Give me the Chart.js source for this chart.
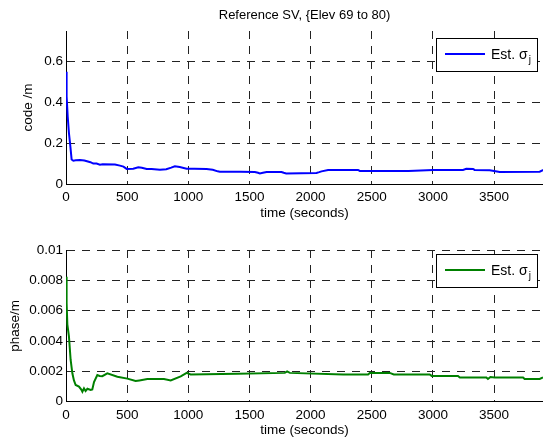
<!DOCTYPE html>
<html>
<head>
<meta charset="utf-8">
<script src="https://cdn.jsdelivr.net/npm/chart.js@4/dist/chart.umd.min.js"></script>
<style>
  body { margin: 0; background: #fff; }
  #wrap { position: relative; width: 543px; height: 438px; }
  canvas { position: absolute; left: 0; }
</style>
</head>
<body>
<div id="wrap">
  <canvas id="code" width="543" height="225" style="top:0"></canvas>
  <canvas id="phase" width="543" height="219" style="top:219px"></canvas>
</div>
<script>
const titleText = "Reference SV, {Elev 69 to 80)";
const xLabel = "time (seconds)";
const xTicks = [0, 500, 1000, 1500, 2000, 2500, 3000, 3500];

// code sigma
const codeTime = [0, 5, 14, 24, 33, 46, 60, 80, 114, 150, 200, 223, 250, 277, 300, 400, 441, 470, 496, 550, 591, 620, 660, 700, 768, 820, 860, 890, 930, 986, 1050, 1149, 1200, 1240, 1258, 1350, 1422, 1544, 1570, 1585, 1610, 1640, 1762, 1780, 1800, 2048, 2070, 2089, 2143, 2388, 2402, 2600, 2800, 3001, 3246, 3273, 3328, 3341, 3464, 3500, 3546, 3873, 3897, 3900];
const codeSigma = [0.55, 0.43, 0.33, 0.25, 0.2, 0.12, 0.114, 0.116, 0.118, 0.115, 0.107, 0.1, 0.1, 0.095, 0.097, 0.095, 0.09, 0.085, 0.074, 0.075, 0.082, 0.08, 0.074, 0.074, 0.07, 0.072, 0.08, 0.087, 0.083, 0.075, 0.075, 0.074, 0.07, 0.062, 0.06, 0.06, 0.06, 0.059, 0.055, 0.052, 0.055, 0.059, 0.059, 0.055, 0.052, 0.054, 0.058, 0.062, 0.069, 0.069, 0.064, 0.064, 0.064, 0.069, 0.069, 0.075, 0.074, 0.069, 0.067, 0.064, 0.059, 0.06, 0.067, 0.067];
const codeTicks = [0, 0.2, 0.4, 0.6];

// phase sigma
const phaseTime = [0, 5, 11, 24, 38, 52, 65, 79, 106, 125, 134, 147, 160, 175, 202, 215, 229, 256, 275, 297, 338, 420, 502, 569, 600, 665, 801, 856, 938, 987, 1019, 1400, 1789, 1808, 1830, 2265, 2470, 2484, 2647, 2680, 2974, 2990, 3205, 3220, 3437, 3450, 3470, 3505, 3737, 3750, 3873, 3900];
const phaseSigma = [0.00824, 0.0065, 0.0051, 0.0043, 0.00275, 0.00187, 0.0014, 0.0011, 0.001, 0.0008, 0.00066, 0.00088, 0.0007, 0.00085, 0.00077, 0.0008, 0.0013, 0.00176, 0.0017, 0.00168, 0.00187, 0.00165, 0.00152, 0.00136, 0.0014, 0.00149, 0.00149, 0.0014, 0.00167, 0.0019, 0.0018, 0.00185, 0.0019, 0.002, 0.0019, 0.0018, 0.0018, 0.0019, 0.0019, 0.0018, 0.0018, 0.0017, 0.0017, 0.0016, 0.0016, 0.0015, 0.00163, 0.0016, 0.0016, 0.0015, 0.0015, 0.0016];
const phaseTicks = [0, 0.002, 0.004, 0.006, 0.008, 0.01];
const phaseTickLabels = ["0", "0.002", "0.004", "0.006", "0.008", "0.01"];

const legendText = "Est. \u03c3";
const legendSub = "j";

const FONT = '"Liberation Sans", Arial, Helvetica, sans-serif';
Chart.defaults.font.family = FONT;
Chart.defaults.font.size = 13.5;
Chart.defaults.color = "#000";

// MATLAB style boxed legend in the top right corner
const legendBox = {
  id: "legendBox",
  afterDraw(chart, args, opts) {
    const { ctx, chartArea } = chart;
    const ds = chart.data.datasets[0];
    const w = 101, h = 33;
    const x = Math.round(chartArea.right - w - 6.5);
    const y = Math.round(chartArea.top + opts.gap);
    ctx.save();
    ctx.fillStyle = "#fff";
    ctx.fillRect(x, y, w, h);
    ctx.strokeStyle = "#000";
    ctx.lineWidth = 1;
    ctx.strokeRect(x + 0.5, y + 0.5, w, h);
    ctx.strokeStyle = ds.borderColor;
    ctx.lineWidth = 2;
    ctx.beginPath();
    ctx.moveTo(x + 9, y + 16);
    ctx.lineTo(x + 49, y + 16);
    ctx.stroke();
    ctx.fillStyle = "#000";
    ctx.font = "14px " + FONT;
    ctx.fillText(legendText, x + 55, y + 21);
    const tw = ctx.measureText(legendText).width;
    ctx.font = "10px " + FONT;
    ctx.fillText(legendSub, x + 55 + tw + 1, y + 25);
    ctx.restore();
  }
};

function points(xs, ys) {
  return xs.map((t, i) => ({ x: t, y: ys[i] }));
}

function gridColor(c) {
  return c.tick && c.tick.value === 0 ? "rgba(0,0,0,0)" : "#222";
}

function makeChart(id, opt) {
  return new Chart(document.getElementById(id), {
    type: "line",
    data: {
      datasets: [{
        label: legendText + legendSub,
        data: points(opt.time, opt.values),
        borderColor: opt.color,
        borderWidth: 2,
        pointRadius: 0,
        tension: 0
      }]
    },
    plugins: [legendBox],
    options: {
      responsive: false,
      animation: false,
      layout: { padding: { top: opt.padTop, right: 0, bottom: 0, left: 0 } },
      plugins: {
        legend: { display: false },
        tooltip: { enabled: false },
        title: {
          display: !!opt.title,
          text: opt.title,
          fullSize: false,
          font: { size: 13, weight: "normal" },
          color: "#000",
          padding: { top: 8, bottom: 7.4 }
        },
        legendBox: { gap: opt.legendGap }
      },
      scales: {
        x: {
          type: "linear",
          min: 0,
          max: 3900,
          afterBuildTicks: s => { s.ticks = xTicks.map(v => ({ value: v })); },
          afterFit: s => { s.height = opt.xHeight; },
          ticks: { padding: 5, autoSkip: false, maxRotation: 0, callback: v => String(v) },
          grid: { color: gridColor, drawTicks: false, lineWidth: 1 },
          border: { display: true, color: "#000", width: 1, dash: [8, 7] },
          title: { display: true, text: xLabel, padding: { top: 0, bottom: opt.xTitlePad } }
        },
        y: {
          min: 0,
          max: opt.yMax,
          afterBuildTicks: s => { s.ticks = opt.yTicks.map(v => ({ value: v })); },
          afterFit: s => { s.width = 66; },
          ticks: { padding: 3, callback: (v, i) => opt.yLabels[i] },
          grid: { color: gridColor, drawTicks: false, lineWidth: 1 },
          border: { display: true, color: "#000", width: 1, dash: [8, 7] },
          title: { display: true, text: opt.yTitle, padding: { top: opt.yTitlePad, bottom: 0 } }
        }
      }
    }
  });
}

makeChart("code", {
  time: codeTime, values: codeSigma, color: "#0000ff",
  title: titleText, padTop: 0, legendGap: 6.5,
  yMax: 0.75, yTicks: codeTicks, yLabels: codeTicks.map(String),
  yTitle: "code /m", yTitlePad: 20,
  xHeight: 41, xTitlePad: 4
});

makeChart("phase", {
  time: phaseTime, values: phaseSigma, color: "#008000",
  title: "", padTop: 31, legendGap: 4,
  yMax: 0.01, yTicks: phaseTicks, yLabels: phaseTickLabels,
  yTitle: "phase/m", yTitlePad: 7,
  xHeight: 36.3, xTitlePad: 0
});
</script>
</body>
</html>
